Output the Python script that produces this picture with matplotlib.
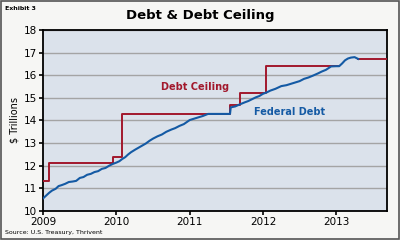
import numpy as np
import matplotlib.pyplot as plt
from matplotlib.patches import Rectangle

# debt ceiling steps (year, $ trillions) - value holds from that date on; nan = suspended
ceil_x = [2009.0, 2009.08, 2009.95, 2010.07, 2011.55, 2011.69, 2012.04, 2013.04, 2013.3, 2013.69]
ceil_y = [11.315, 12.104, 12.394, 14.294, 14.694, 15.194, 16.394, np.nan, 16.699, 16.699]

# federal debt subject to limit
debt_x = [2009.0, 2009.04, 2009.08, 2009.12, 2009.17, 2009.21, 2009.25, 2009.3, 2009.35,
          2009.4, 2009.45, 2009.5, 2009.55, 2009.6, 2009.65, 2009.7, 2009.75, 2009.8,
          2009.85, 2009.9, 2009.95, 2010.0, 2010.04, 2010.08, 2010.12, 2010.16, 2010.2,
          2010.26, 2010.33, 2010.4, 2010.45, 2010.5, 2010.56, 2010.62, 2010.68, 2010.75,
          2010.8, 2010.86, 2010.92, 2011.0, 2011.06, 2011.12, 2011.18, 2011.25, 2011.35,
          2011.45, 2011.55, 2011.56, 2011.62, 2011.69, 2011.75, 2011.8, 2011.85, 2011.9,
          2011.95, 2012.0, 2012.05, 2012.1, 2012.17, 2012.25, 2012.32, 2012.4, 2012.46,
          2012.5, 2012.56, 2012.62, 2012.68, 2012.75, 2012.8, 2012.86, 2012.93, 2013.0,
          2013.04, 2013.08, 2013.12, 2013.16, 2013.2, 2013.25, 2013.3]
debt_y = [10.56, 10.68, 10.8, 10.9, 10.98, 11.1, 11.14, 11.2, 11.28,
          11.3, 11.33, 11.46, 11.5, 11.6, 11.64, 11.72, 11.76, 11.86,
          11.9, 12.0, 12.08, 12.14, 12.2, 12.3, 12.38, 12.5, 12.6,
          12.72, 12.85, 12.98, 13.1, 13.2, 13.3, 13.38, 13.5, 13.6,
          13.66, 13.76, 13.84, 14.02, 14.08, 14.14, 14.2, 14.29, 14.29,
          14.29, 14.29, 14.58, 14.62, 14.72, 14.8, 14.86, 14.94, 15.02,
          15.08, 15.18, 15.24, 15.32, 15.4, 15.52, 15.56, 15.64, 15.7,
          15.74, 15.84, 15.9, 15.98, 16.08, 16.16, 16.24, 16.39, 16.4,
          16.4, 16.52, 16.66, 16.74, 16.78, 16.8, 16.72]

years = [2009, 2010, 2011, 2012, 2013]
red = '#a2182c'
blue = '#145aa4'

fig = plt.figure(figsize=(4, 2.4), dpi=100)
fig.patch.set_facecolor('#f6f6f4')
fig.patches.append(Rectangle((0.003, 0.004), 0.994, 0.992, transform=fig.transFigure,
                             fill=False, edgecolor='#555555', lw=1.2))

ax = fig.add_axes([0.108, 0.121, 0.859, 0.754])
ax.set_facecolor('#dbe2eb')
ax.step(ceil_x, ceil_y, where='post', color=red, lw=1.4, zorder=3)
ax.plot(debt_x, debt_y, color=blue, lw=1.5, zorder=4)

ax.set_xlim(2009, 2013.69)
ax.set_ylim(10, 18)
ax.set_xticks(years)
ax.set_xticklabels([str(y) for y in years])
ax.set_yticks(range(10, 19))
ax.yaxis.grid(True, color='#a4a4a4', lw=1.0)
ax.set_axisbelow(True)
for s in ax.spines.values():
    s.set_linewidth(1.3)
ax.tick_params(axis='both', labelsize=7.5, length=3, width=1.2, pad=1.5)

ax.text(2011.07, 15.5, 'Debt Ceiling', color=red, fontsize=7, fontweight='bold', ha='center', va='center')
ax.text(2012.36, 14.38, 'Federal Debt', color=blue, fontsize=7, fontweight='bold', ha='center', va='center')
ax.set_ylabel('$ Trillions', fontsize=7, labelpad=3)

fig.text(0.5, 0.935, 'Debt & Debt Ceiling', fontsize=9.5, fontweight='bold', ha='center', va='center')
fig.text(0.012, 0.965, 'Exhibit 3', fontsize=4.5, fontweight='bold', ha='left', va='center')
fig.text(0.012, 0.02, 'Source: U.S. Treasury, Thrivent', fontsize=4.5, ha='left', va='bottom')

fig.savefig('out.png', dpi=100, facecolor=fig.get_facecolor())
